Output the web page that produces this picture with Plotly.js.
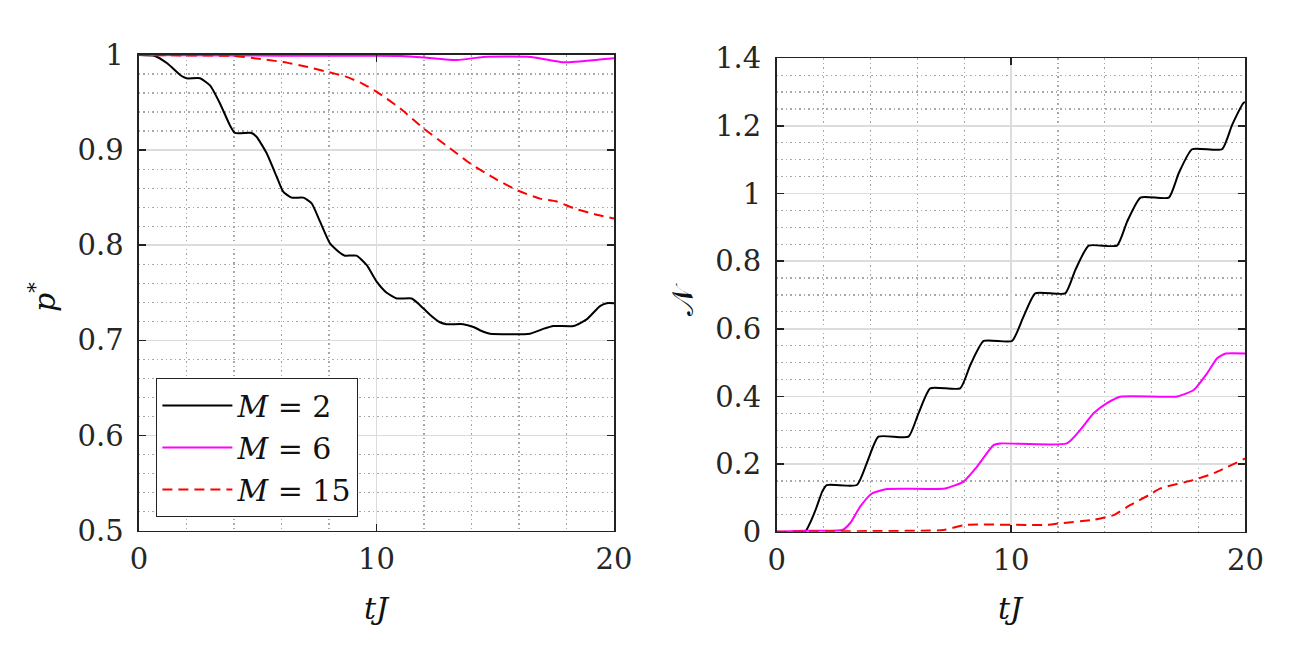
<!DOCTYPE html>
<html>
<head>
<meta charset="utf-8">
<script src="https://cdn.plot.ly/plotly-3.0.1.min.js"></script>
<style>
  html, body { margin: 0; padding: 0; background: #fff; }
  #chart { width: 1313px; height: 654px; }
</style>
</head>
<body>
<div id="chart"></div>
<script>
// left panel: p* against tJ
var tP2 = [0, 0.67, 1.2, 1.73, 2.0, 2.57, 2.99, 3.41, 3.83, 4.04, 4.74, 4.95, 5.37, 5.8, 6.08, 6.43, 6.92, 7.27, 7.62, 8.04, 8.46, 8.67, 9.16, 9.59, 10.0, 10.43, 10.85, 11.48, 11.83, 12.25, 12.67, 12.95, 13.65, 14.08, 14.5, 14.78, 16.46, 17.02, 17.45, 18.3, 18.85, 19.41, 19.69, 20];
var pM2 = [1, 0.999, 0.991, 0.979, 0.9755, 0.9755, 0.968, 0.949, 0.926, 0.918, 0.918, 0.914, 0.897, 0.872, 0.856, 0.85, 0.85, 0.844, 0.825, 0.802, 0.792, 0.789, 0.789, 0.779, 0.762, 0.75, 0.744, 0.744, 0.737, 0.727, 0.719, 0.717, 0.717, 0.714, 0.709, 0.707, 0.707, 0.712, 0.715, 0.715, 0.722, 0.736, 0.739, 0.739];

var tP6 = [0, 4, 8, 10, 11, 12, 13.4, 14.5, 16.5, 17.9, 19.5, 20];
var pM6 = [1, 0.9995, 0.9992, 0.9993, 0.999, 0.9975, 0.9947, 0.998, 0.998, 0.9923, 0.9955, 0.9965];

var tP15 = [0, 2, 4, 5.23, 6.22, 7.0, 7.9, 8.74, 9.4, 10.0, 10.99, 11.97, 13.09, 13.94, 15.06, 15.9, 16.88, 17.59, 18.29, 19.27, 20];
var pM15 = [1, 0.9995, 0.999, 0.9955, 0.992, 0.988, 0.9825, 0.977, 0.97, 0.9615, 0.944, 0.923, 0.902, 0.886, 0.869, 0.858, 0.849, 0.846, 0.839, 0.832, 0.828];

// right panel: N against tJ
var tN2 = [0, 1.21, 1.45, 1.71, 1.95, 2.14, 3.42, 3.84, 4.34, 5.62, 6.05, 6.55, 7.83, 8.26, 8.83, 10.04, 10.53, 11.03, 12.31, 12.74, 13.31, 14.52, 14.95, 15.52, 16.73, 17.15, 17.72, 19.0, 19.43, 19.93, 20];
var nM2 = [0, 0, 0.03, 0.074, 0.12, 0.138, 0.138, 0.202, 0.281, 0.281, 0.35, 0.424, 0.424, 0.493, 0.564, 0.564, 0.636, 0.705, 0.705, 0.774, 0.846, 0.846, 0.917, 0.988, 0.988, 1.06, 1.131, 1.131, 1.203, 1.269, 1.27];

var tN6 = [0, 1.2, 2.8, 3.13, 3.56, 4.06, 4.7, 7.19, 7.97, 8.54, 9.25, 9.54, 12.38, 12.95, 13.52, 14.09, 14.66, 17.08, 17.79, 18.36, 18.79, 19.15, 20];
var nM6 = [0, 0.003, 0.005, 0.025, 0.074, 0.113, 0.126, 0.128, 0.148, 0.192, 0.256, 0.261, 0.261, 0.301, 0.35, 0.38, 0.399, 0.4, 0.419, 0.468, 0.513, 0.527, 0.527];

var tN15 = [0, 4, 7.12, 8.04, 11.53, 12.1, 13.52, 14.38, 15.09, 15.87, 16.37, 17.79, 18.65, 20];
var nM15 = [0, 0.002, 0.005, 0.02, 0.02, 0.025, 0.035, 0.049, 0.079, 0.108, 0.128, 0.153, 0.173, 0.217];

var names = ['<i>M</i> = 2', '<i>M</i> = 6', '<i>M</i> = 15'];

var FONT = 'DejaVu Serif';

function line(color, dash) {
  return {color: color, width: 2, dash: dash, shape: 'spline', smoothing: 0.5};
}

var data = [
  {x: tP2, y: pM2, name: names[0], mode: 'lines', line: line('#000000', 'solid'), xaxis: 'x', yaxis: 'y'},
  {x: tP6, y: pM6, name: names[1], mode: 'lines', line: line('#ff00ff', 'solid'), xaxis: 'x', yaxis: 'y'},
  {x: tP15, y: pM15, name: names[2], mode: 'lines', line: line('#ff0000', '10px,6px'), xaxis: 'x', yaxis: 'y'},
  {x: tN2, y: nM2, mode: 'lines', showlegend: false, line: line('#000000', 'solid'), xaxis: 'x2', yaxis: 'y2'},
  {x: tN6, y: nM6, mode: 'lines', showlegend: false, line: line('#ff00ff', 'solid'), xaxis: 'x2', yaxis: 'y2'},
  {x: tN15, y: nM15, mode: 'lines', showlegend: false, line: line('#ff0000', '10px,6px'), xaxis: 'x2', yaxis: 'y2'}
];

function minor(dt) {
  return {showgrid: true, dtick: dt, gridcolor: '#a8a8a8', griddash: '1.5px,3px', gridwidth: 1.2};
}

function axis(extra) {
  var a = {
    showline: true, linecolor: '#222', linewidth: 1.6, mirror: 'ticks',
    ticks: 'inside', ticklen: 7, tickwidth: 1.6, tickcolor: '#222',
    showgrid: true, gridcolor: '#dcdcdc', gridwidth: 1.6,
    zeroline: false, fixedrange: true,
    tickfont: {family: FONT, size: 29, color: '#262626'}
  };
  for (var k in extra) a[k] = extra[k];
  return a;
}

var layout = {
  width: 1313, height: 654,
  margin: {l: 0, r: 0, t: 0, b: 0},
  paper_bgcolor: '#fff', plot_bgcolor: '#fff',
  font: {family: FONT, color: '#222'},
  xaxis: axis({domain: [0.10586, 0.46763], range: [0, 20], dtick: 10, tick0: 0, anchor: 'y',
    ticklabelstandoff: 2, minor: minor(2)}),
  yaxis: axis({domain: [0.1888, 0.9159], range: [0.5, 1], dtick: 0.1, tick0: 0.5, anchor: 'x',
    ticklabelstandoff: 8, minor: minor(0.02)}),
  xaxis2: axis({domain: [0.59155, 0.94859], range: [0, 20], dtick: 10, tick0: 0, anchor: 'y2',
    ticklabelstandoff: 2, minor: minor(2)}),
  yaxis2: axis({domain: [0.187, 0.9109], range: [0, 1.4], dtick: 0.2, tick0: 0, anchor: 'x2',
    ticklabelstandoff: 8, minor: minor(0.05)}),
  showlegend: true,
  legend: {
    x: 0.1188, y: 0.422, xanchor: 'left', yanchor: 'top',
    bgcolor: '#fff', bordercolor: '#222', borderwidth: 1.4,
    font: {family: FONT, size: 30, color: '#111'},
    tracegroupgap: 0, itemwidth: 70
  },
  annotations: [
    {text: '<i>p</i><sup>*</sup>', xref: 'paper', yref: 'paper', x: 0.0328, y: 0.5459,
      xanchor: 'center', yanchor: 'middle',
      textangle: -90, showarrow: false, font: {family: FONT, size: 30, color: '#111'}},
    {text: '\uD835\uDCA9', xref: 'paper', yref: 'paper', x: 0.5205, y: 0.5413,
      xanchor: 'center', yanchor: 'middle',
      textangle: -90, showarrow: false, font: {family: FONT, size: 30, color: '#111'}},
    {text: '<i>tJ</i>', xref: 'paper', yref: 'paper', x: 0.2868, y: 0.0703,
      xanchor: 'center', yanchor: 'middle',
      showarrow: false, font: {family: FONT, size: 30, color: '#111'}},
    {text: '<i>tJ</i>', xref: 'paper', yref: 'paper', x: 0.770, y: 0.0703,
      xanchor: 'center', yanchor: 'middle',
      showarrow: false, font: {family: FONT, size: 30, color: '#111'}}
  ]
};

Plotly.newPlot('chart', data, layout, {displayModeBar: false, staticPlot: true});
</script>
</body>
</html>
